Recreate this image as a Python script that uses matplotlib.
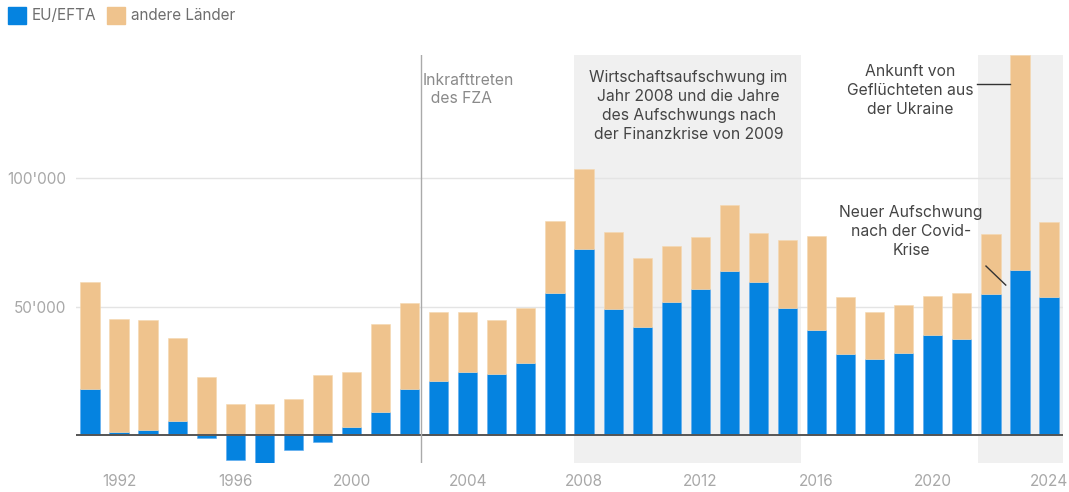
import numpy as np
import matplotlib
matplotlib.use("Agg")
import matplotlib.pyplot as plt
from matplotlib.patches import Rectangle

plt.rcParams["font.family"] = ["Inter", "DejaVu Sans"]

# data, people
years = list(range(1991, 2025))
eu_efta = [17800, 1300, 1900, 5600, -1300, -9700, -10800, -6000, -2900, 3000,
           8800, 17800, 20900, 24700, 23600, 27900, 55300, 72300, 49000, 42200,
           51700, 57000, 63800, 59500, 49500, 41000, 31600, 29500, 32100, 39000,
           37400, 54800, 64400, 53800]
andere = [41700, 43900, 42800, 32200, 22500, 11900, 11900, 14000, 23500, 21700,
          34300, 33800, 26900, 23100, 21100, 21600, 27900, 31200, 30200, 26900,
          22100, 20000, 25900, 19100, 26500, 36500, 22200, 18300, 18400, 15300,
          17900, 23300, 83600, 29100]
tick_years = [1992, 1996, 2000, 2004, 2008, 2012, 2016, 2020, 2024]
y_ticks = [50000, 100000]
y_labels = ["50'000", "100'000"]

blue = "#0583e0"
tan = "#efc38d"
shade = "#f0f0f0"

W, H = 1069, 492
fig = plt.figure(figsize=(W / 100, H / 100), dpi=100)
ax = fig.add_axes([76 / W, 1 - 463 / H, (1063 - 76) / W, (463 - 55) / H])

# shaded periods
ax.axvspan(2007.67, 2015.48, color=shade, zorder=0, lw=0)
ax.axvspan(2021.55, 2025, color=shade, zorder=0, lw=0)

# grid lines
for t in y_ticks:
    ax.axhline(t, color="#e4e4e4", lw=1, zorder=1)

eu = np.array(eu_efta)
bottom = np.maximum(eu, 0)
ax.bar(years, eu, width=0.66, color=blue, edgecolor="#5aaaf0", lw=0.4, zorder=2)
ax.bar(years, andere, bottom=bottom, width=0.66, color=tan, edgecolor="#f5d8b0",
       lw=0.4, zorder=2)

ax.axhline(0, color="#555555", lw=1.4, zorder=3)
ax.axvline(2002.39, color="#aaaaaa", lw=1, zorder=3)

ax.set_xlim(1990.52, 2024.48)
ax.set_ylim(-10900, 148000)

ax.set_yticks(y_ticks)
ax.set_yticklabels(y_labels)
ax.set_xticks(tick_years)
ax.tick_params(length=0, labelsize=11, labelcolor="#a8a8a8")
ax.tick_params(axis="y", pad=7)
ax.tick_params(axis="x", pad=8)
for s in ax.spines.values():
    s.set_visible(False)

# annotations
fs = 11.3
ax.text(2002.44, 134500, "Inkrafttreten\n  des FZA", ha="left", va="center",
        fontsize=fs, color="#8a8a8a", linespacing=1.3)
ax.text(2011.6, 128200,
        "Wirtschaftsaufschwung im\nJahr 2008 und die Jahre\ndes Aufschwungs nach\nder Finanzkrise von 2009",
        ha="center", va="center", fontsize=fs, color="#444444", linespacing=1.33)
ax.text(2019.21, 134000, "Ankunft von\nGeflüchteten aus\nder Ukraine",
        ha="center", va="center", fontsize=fs, color="#444444", linespacing=1.33)
ax.text(2019.25, 79100, "Neuer Aufschwung\nnach der Covid-\nKrise",
        ha="center", va="center", fontsize=fs, color="#444444", linespacing=1.33)
ax.plot([2021.52, 2022.66], [136700, 136700], color="#333333", lw=1, zorder=4)
ax.plot([2021.83, 2022.51], [65800, 58400], color="#333333", lw=1, zorder=4)

# legend
for x0, label in [(8, "EU/EFTA"), (107, "andere Länder")]:
    col = blue if label == "EU/EFTA" else tan
    fig.patches.append(Rectangle((x0 / W, 1 - 24 / H), 18 / W, 17 / H,
                                 transform=fig.transFigure, color=col))
    fig.text((x0 + 24) / W, 1 - 16 / H, label, ha="left", va="center",
             fontsize=11, color="#6e6e6e")

fig.savefig("out.png", dpi=100)
